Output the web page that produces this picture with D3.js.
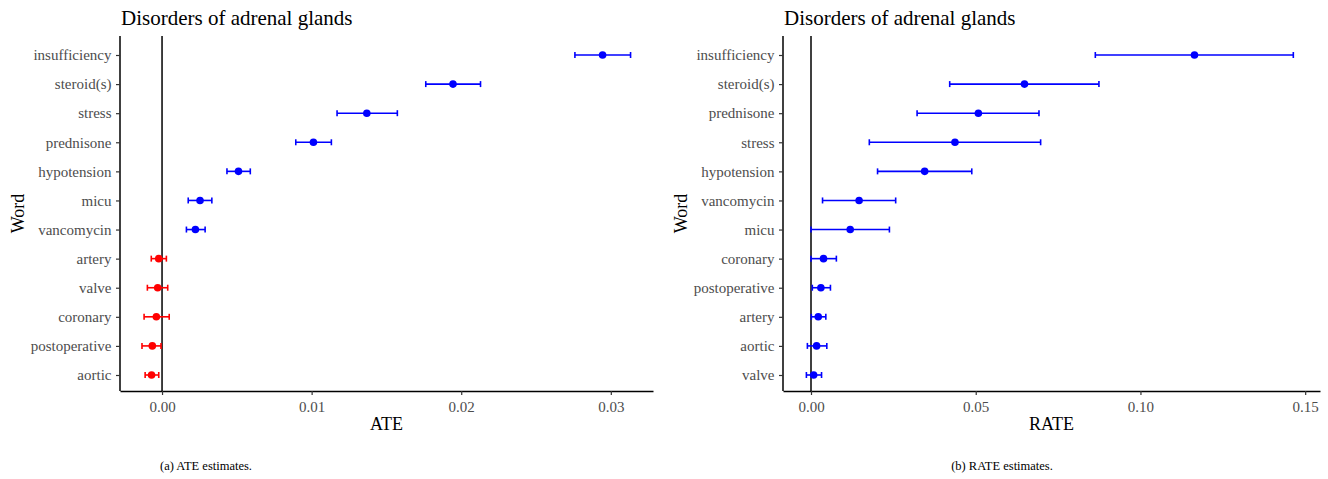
<!DOCTYPE html>
<html><head><meta charset="utf-8">
<script src="https://cdn.jsdelivr.net/npm/d3@7"></script>
<style>
body{margin:0;background:#fff;}
svg{display:block;font-family:"Liberation Serif","Times New Roman",serif;}
svg text{font-family:"Liberation Serif","Times New Roman",serif !important;}
</style></head><body>
<svg id="c" width="1328" height="479"></svg>
<script>
// ---- Data ----
const chartTitle = "Disorders of adrenal glands";
// Panel (a): ATE
const ateWords = ["insufficiency","steroid(s)","stress","prednisone","hypotension","micu","vancomycin","artery","valve","coronary","postoperative","aortic"];
const ateEst = [0.02945,0.01945,0.01369,0.01012,0.00511,0.00254,0.00223,-0.00022,-0.00029,-0.00038,-0.00065,-0.00070];
const ateLo  = [0.02760,0.01763,0.01170,0.00894,0.00434,0.00175,0.00163,-0.00072,-0.00098,-0.00120,-0.00134,-0.00113];
const ateHi  = [0.03132,0.02129,0.01573,0.01132,0.00590,0.00333,0.00288,0.00029,0.00038,0.00048,-0.00007,-0.00022];
const ateTicks = [0.00,0.01,0.02,0.03];
// Panel (b): RATE
const rateWords = ["insufficiency","steroid(s)","prednisone","stress","hypotension","vancomycin","micu","coronary","postoperative","artery","aortic","valve"];
const rateEst = [0.1164,0.0648,0.0508,0.0437,0.0345,0.0146,0.0119,0.0038,0.0030,0.0022,0.0017,0.0008];
const rateLo  = [0.0863,0.0421,0.0322,0.0177,0.0202,0.0035,0.0000,0.0000,0.0004,0.0001,-0.0011,-0.0014];
const rateHi  = [0.1464,0.0874,0.0692,0.0697,0.0488,0.0257,0.0238,0.0077,0.0059,0.0045,0.0048,0.0032];
const rateTicks = [0.00,0.05,0.10,0.15];

const svg = d3.select("#c");

function panel(opt){
  const g = svg.append("g");
  const x = d3.scaleLinear().domain(opt.xDomain).range([opt.left, opt.right]);
  const y = d3.scalePoint().domain(opt.words).range([opt.top + 19, opt.bottom - 16]);
  // title
  g.append("text").attr("x", opt.left + 1).attr("y", 25).attr("font-size", 21).attr("fill","#000").text(chartTitle);
  // zero line
  g.append("line").attr("x1", x(0)).attr("x2", x(0)).attr("y1", opt.top).attr("y2", opt.bottom)
    .attr("stroke","#000").attr("stroke-width",1.5);
  // axes
  const xa = g.append("g").attr("transform",`translate(0,${opt.bottom})`)
    .call(d3.axisBottom(x).tickValues(opt.ticks).tickFormat(d3.format(".2f")).tickSize(4).tickSizeOuter(0));
  xa.select(".domain").attr("stroke","#000").attr("stroke-width",1.5);
  xa.selectAll(".tick line").attr("stroke","#333").attr("stroke-width",1.2);
  xa.selectAll(".tick text").attr("font-size",15).attr("fill","#4d4d4d").attr("dy","0.9em");
  const ya = g.append("g").attr("transform",`translate(${opt.left},0)`)
    .call(d3.axisLeft(y).tickSize(4).tickSizeOuter(0));
  ya.select(".domain").attr("stroke","#000").attr("stroke-width",1.5)
    .attr("d",`M0,${opt.top}V${opt.bottom}`);
  ya.selectAll(".tick line").attr("stroke","#333").attr("stroke-width",1.2);
  ya.selectAll(".tick text").attr("font-size",15).attr("fill","#4d4d4d").attr("dx","-0.1em");
  // axis titles
  g.append("text").attr("x",(opt.left+opt.right)/2).attr("y",opt.bottom+39).attr("text-anchor","middle")
    .attr("font-size",18).text(opt.xLabel);
  g.append("text").attr("transform",`translate(${opt.left-96},${(opt.top+opt.bottom)/2}) rotate(-90)`)
    .attr("text-anchor","middle").attr("font-size",18).text("Word");
  // caption
  g.append("text").attr("x",opt.capX).attr("y",470).attr("text-anchor","middle").attr("font-size",12.5).text(opt.caption);
  // error bars
  const rows = opt.words.map((w,i)=>({w, e:opt.est[i], lo:opt.lo[i], hi:opt.hi[i]}));
  const col = d => d.e >= 0 ? "#0000ff" : "#ff0000";
  const cap = 3;
  const eb = g.append("g");
  rows.forEach(d=>{
    const yy = y(d.w);
    eb.append("line").attr("x1",x(d.lo)).attr("x2",x(d.hi)).attr("y1",yy).attr("y2",yy).attr("stroke",col(d)).attr("stroke-width",1.6);
    eb.append("line").attr("x1",x(d.lo)).attr("x2",x(d.lo)).attr("y1",yy-cap).attr("y2",yy+cap).attr("stroke",col(d)).attr("stroke-width",1.6);
    eb.append("line").attr("x1",x(d.hi)).attr("x2",x(d.hi)).attr("y1",yy-cap).attr("y2",yy+cap).attr("stroke",col(d)).attr("stroke-width",1.6);
  });
  g.append("g").selectAll("circle").data(rows).join("circle")
    .attr("cx",d=>x(d.e)).attr("cy",d=>y(d.w)).attr("r",3.8).attr("fill",col);
}

panel({words:ateWords, est:ateEst, lo:ateLo, hi:ateHi, ticks:ateTicks,
  xDomain:[-0.00281,0.03282], left:120, right:653, top:36, bottom:391,
  xLabel:"ATE", caption:"(a) ATE estimates.", capX:206});
panel({words:rateWords, est:rateEst, lo:rateLo, hi:rateHi, ticks:rateTicks,
  xDomain:[-0.0085,0.1545], left:783, right:1320, top:36, bottom:391,
  xLabel:"RATE", caption:"(b) RATE estimates.", capX:1002});
</script>
</body></html>
